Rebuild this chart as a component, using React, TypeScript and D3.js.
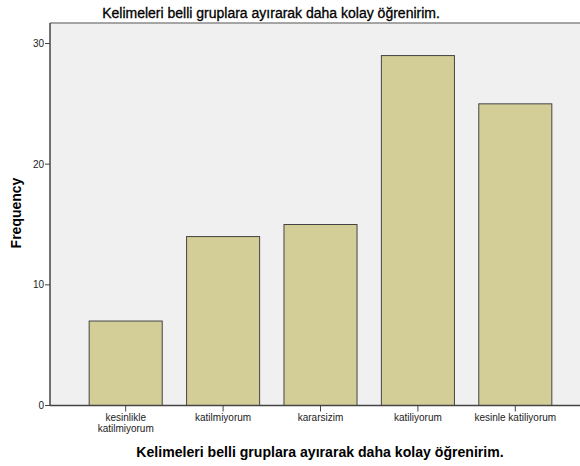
import React from "react";
import * as d3 from "d3";

const categories = ["kesinlikle katilmiyorum", "katilmiyorum", "kararsizim", "katiliyorum", "kesinle katiliyorum"];
const categoryLines = [["kesinlikle", "katilmiyorum"], ["katilmiyorum"], ["kararsizim"], ["katiliyorum"], ["kesinle katiliyorum"]];
const frequencies = [7, 14, 15, 29, 25];
const yTicks = [0, 10, 20, 30];
const title = "Kelimeleri belli gruplara ayırarak daha kolay öğrenirim.";
const yLabel = "Frequency";

export default function App() {
  const W = 580, H = 466;
  const left = 50, top = 23, bottom = 405.5, right = 590;
  const x = d3.scaleBand<string>().domain(categories).range([77, 564]).paddingInner(0.25).paddingOuter(0.125);
  const y = d3.scaleLinear().domain([0, 30]).range([bottom, 43.5]);
  const font = "Arial, 'Liberation Sans', sans-serif";
  return (
    <svg width={W} height={H} style={{ position: "absolute", left: 0, top: 0, background: "#fff" }} fontFamily={font}>
      <rect x={left} y={top} width={right - left} height={bottom - top} fill="#f0f0f0" />
      <line x1={left} x2={right} y1={top} y2={top} stroke="#8a8a8a" strokeWidth={1.5} />
      {categories.map((c, i) => (
        <rect key={c} x={x(c)} y={y(frequencies[i])} width={x.bandwidth()} height={y(0) - y(frequencies[i])}
          fill="#d3ce98" stroke="#444" strokeWidth={1} />
      ))}
      <line x1={left} x2={left} y1={top} y2={bottom} stroke="#444" strokeWidth={1.5} />
      <line x1={left} x2={right} y1={bottom} y2={bottom} stroke="#444" strokeWidth={1.5} />
      {yTicks.map(t => (
        <g key={t}>
          <line x1={left - 5} x2={left} y1={y(t)} y2={y(t)} stroke="#444" />
          <text x={left - 6} y={y(t) + 3.5} fontSize={10} textAnchor="end" fill="#222">{t}</text>
        </g>
      ))}
      {categories.map((c, i) => {
        const cx = (x(c) as number) + x.bandwidth() / 2;
        return (
          <g key={c}>
            <line x1={cx} x2={cx} y1={bottom} y2={bottom + 6} stroke="#444" />
            {categoryLines[i].map((l, j) => (
              <text key={j} x={cx} y={421 + j * 11} fontSize={10} textAnchor="middle" fill="#222">{l}</text>
            ))}
          </g>
        );
      })}
      <text x={271} y={17.5} fontSize={14} textAnchor="middle" fill="#000" stroke="#000" strokeWidth={0.3}>{title}</text>
      <text x={320} y={456.5} fontSize={14.1} fontWeight="bold" textAnchor="middle" fill="#000">{title}</text>
      <text transform={`translate(21,213) rotate(-90)`} fontSize={14} fontWeight="bold" textAnchor="middle" fill="#000">{yLabel}</text>
    </svg>
  );
}
